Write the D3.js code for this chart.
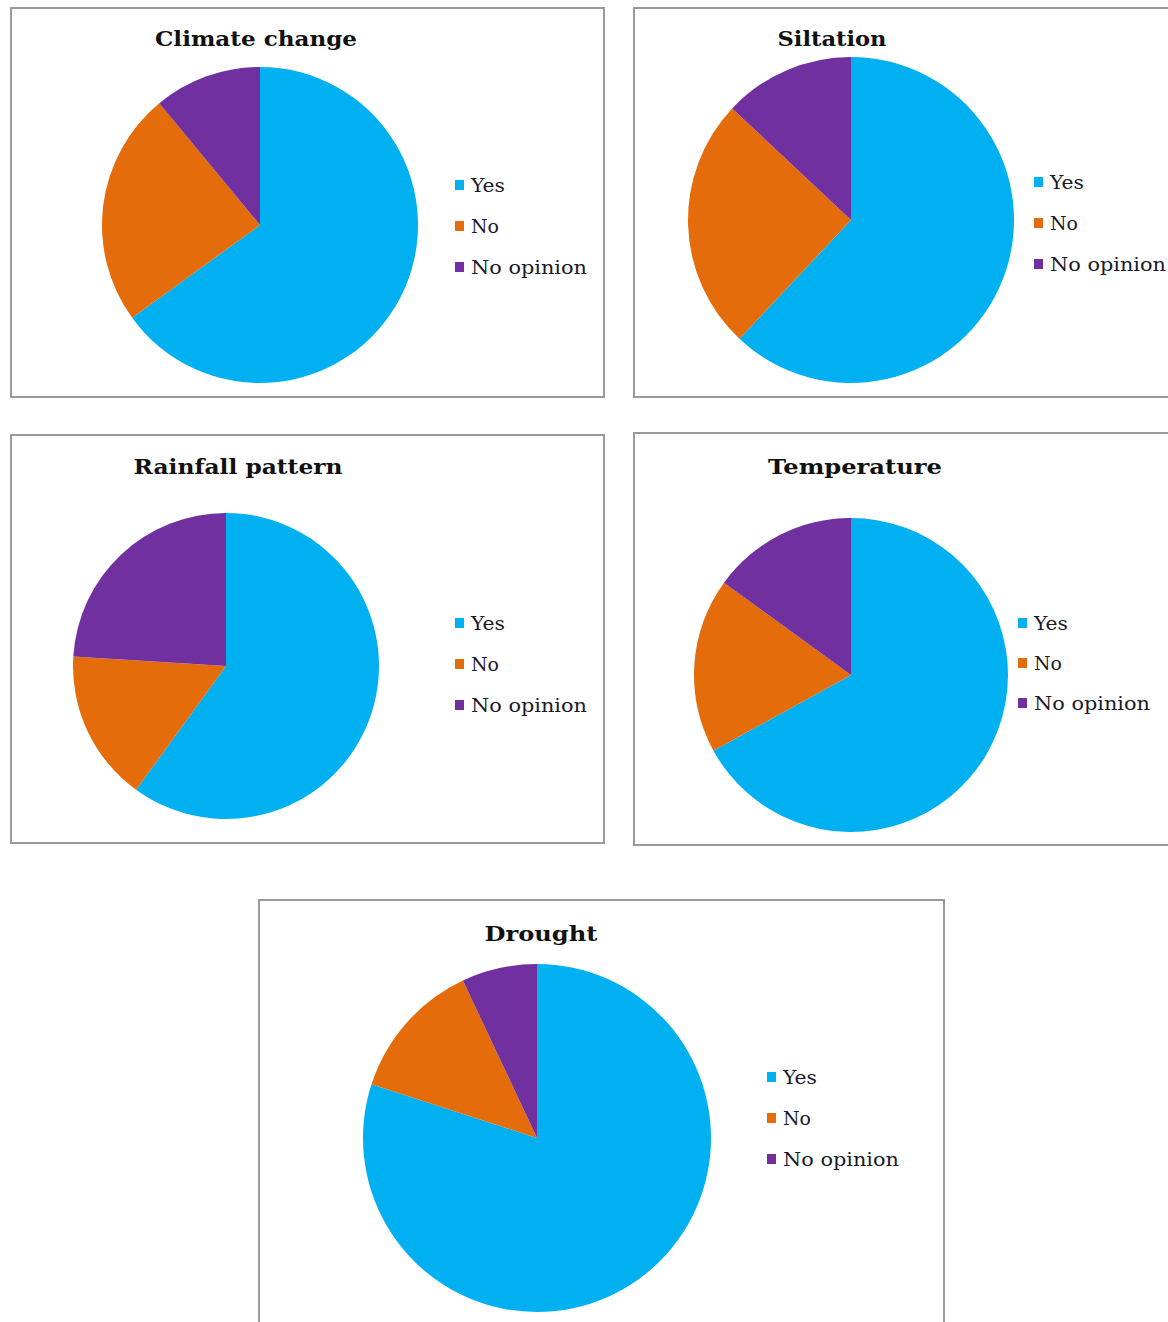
<!DOCTYPE html>
<html>
<head>
<meta charset="utf-8">
<script src="https://cdn.jsdelivr.net/npm/d3@7"></script>
<style>
	body { margin: 0; background: #fff; }
	#charts { width: 1168px; height: 1322px; }
</style>
</head>
<body>
<div id="charts"></div>
<script>
// answers, same order in every pie
var categories = ["Yes", "No", "No opinion"];
var colors = ["#00B0F0", "#E46C0A", "#7030A0"];

var titles = ["Climate change", "Siltation", "Rainfall pattern", "Temperature", "Drought"];
// percent of respondents
var climateChange = [65, 24, 11];
var siltation = [62, 25, 13];
var rainfallPattern = [60, 16, 24];
var temperature = [67, 18, 15];
var drought = [80, 13, 7];

var seriesList = [climateChange, siltation, rainfallPattern, temperature, drought];

// where each chart box sits on the page
var panels = [
	{box: [11, 8, 593, 389],  title: [256, 46, 202], cx: 260, cy: 225, r: 158, legend: [455, 185, 41]},
	{box: [634, 8, 600, 389], title: [832, 46, 109], cx: 851, cy: 220, r: 163, legend: [1034, 182, 41]},
	{box: [11, 435, 593, 408], title: [238, 474, 209], cx: 226, cy: 666, r: 153, legend: [455, 623, 41]},
	{box: [634, 433, 600, 412], title: [855, 474, 174], cx: 851, cy: 675, r: 157, legend: [1018, 623, 40]},
	{box: [259, 900, 685, 460], title: [541, 941, 113], cx: 537, cy: 1138, r: 174, legend: [767, 1077, 41]}
];

var svg = d3.select("#charts").append("svg")
	.attr("width", 1168)
	.attr("height", 1322);

var pie = d3.pie().sort(null).value(function(d){ return d; });
var color = d3.scaleOrdinal().domain(categories).range(colors);

panels.forEach(function(p, i){
	var g = svg.append("g");
	var values = seriesList[i];
	//
	g.append("rect")
		.attr("x", p.box[0])
		.attr("y", p.box[1])
		.attr("width", p.box[2])
		.attr("height", p.box[3])
		.attr("fill", "#fff")
		.attr("stroke", "#9a9a9a")
		.attr("stroke-width", 2);
	//
	g.append("text")
		.attr("x", p.title[0])
		.attr("y", p.title[1])
		.attr("text-anchor", "middle")
		.attr("textLength", p.title[2])
		.attr("lengthAdjust", "spacingAndGlyphs")
		.style("font-family", "'DejaVu Serif', serif")
		.style("font-weight", "bold")
		.style("font-size", "21px")
		.style("fill", "#111")
		.text(titles[i]);
	//
	var arc = d3.arc().innerRadius(0).outerRadius(p.r);
	g.append("g")
		.attr("transform", "translate(" + p.cx + "," + p.cy + ")")
		.selectAll("path")
		.data(pie(values))
		.enter()
		.append("path")
		.attr("d", arc)
		.attr("fill", function(d, j){ return color(categories[j]); });
	//
	var legend = g.selectAll(".item")
		.data(categories)
		.enter()
		.append("g")
		.attr("transform", function(d, j){
			return "translate(" + p.legend[0] + "," + (p.legend[1] + j * p.legend[2]) + ")";
		});
	legend.append("rect")
		.attr("x", 0)
		.attr("y", -5)
		.attr("width", 9)
		.attr("height", 10)
		.attr("fill", function(d){ return color(d); });
	legend.append("text")
		.attr("x", 16)
		.attr("y", 7)
		.attr("textLength", function(d){ return {"Yes": 34, "No": 28, "No opinion": 116}[d]; })
		.attr("lengthAdjust", "spacingAndGlyphs")
		.style("font-family", "'DejaVu Serif', serif")
		.style("font-size", "19px")
		.style("fill", "#1a1a2a")
		.text(function(d){ return d; });
});
</script>
</body>
</html>
